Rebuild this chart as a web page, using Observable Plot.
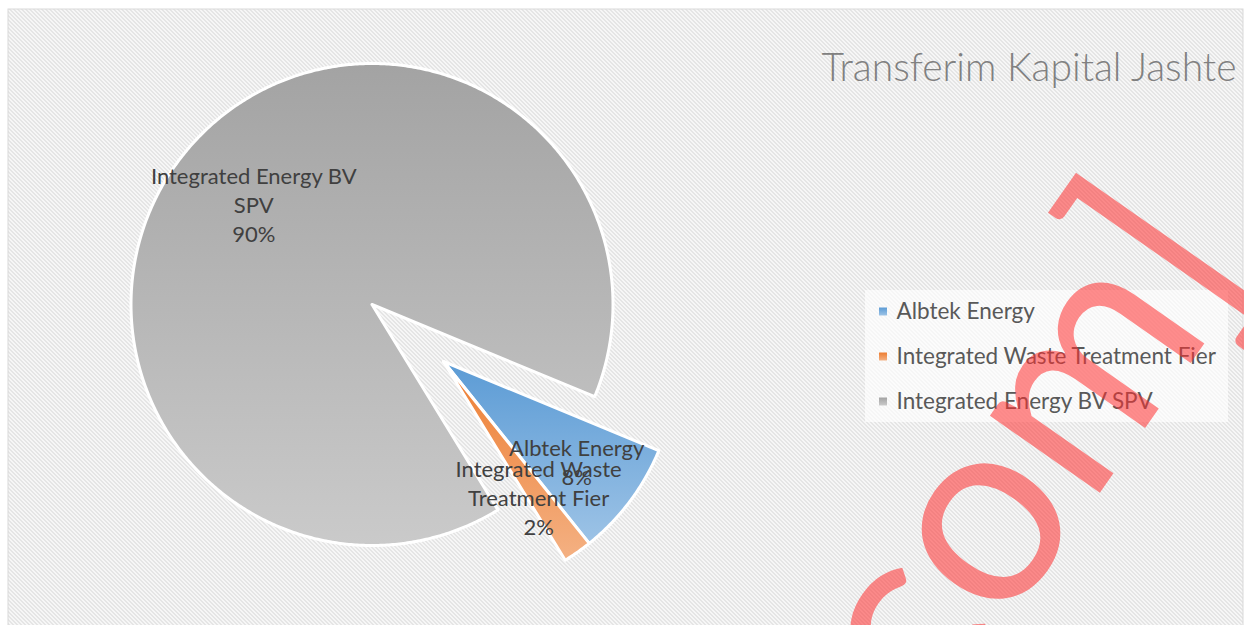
<!DOCTYPE html>
<html><head><meta charset="utf-8">
<script src="https://cdn.jsdelivr.net/npm/d3@7"></script>
<script src="https://cdn.jsdelivr.net/npm/@observablehq/plot@0.6"></script>
<style>
html,body{margin:0;padding:0;background:#fff;}
#chart{position:relative;width:1244px;height:625px;overflow:hidden;}
</style></head><body>
<svg width="0" height="0" style="position:absolute">
<defs>
  <pattern id="hatch" width="4" height="4" patternUnits="userSpaceOnUse">
    <rect width="4" height="4" fill="#ffffff"/>
    <g fill="#dcdcdc" shape-rendering="crispEdges">
      <rect x="0" y="0" width="2" height="1"/>
      <rect x="1" y="1" width="2" height="1"/>
      <rect x="2" y="2" width="2" height="1"/>
      <rect x="3" y="3" width="1" height="1"/><rect x="0" y="3" width="1" height="1"/>
    </g>
  </pattern>
  <linearGradient id="gBlue" x1="0" y1="0" x2="0" y2="1">
    <stop offset="0" stop-color="#5b9bd5"/><stop offset="1" stop-color="#9dc3e6"/>
  </linearGradient>
  <linearGradient id="gOrange" x1="0" y1="0" x2="0" y2="1">
    <stop offset="0" stop-color="#ed7d31"/><stop offset="1" stop-color="#f4b183"/>
  </linearGradient>
  <linearGradient id="gGray" x1="0" y1="0" x2="0" y2="1">
    <stop offset="0" stop-color="#a3a3a3"/><stop offset="1" stop-color="#cacaca"/>
  </linearGradient>
</defs>
</svg>
<div id="chart"></div>
<script>
// ---- data ----
const title = "Transferim Kapital Jashte";
const categories = ["Albtek Energy", "Integrated Waste Treatment Fier", "Integrated Energy BV SPV"];
const values = [8, 2, 90];
const sliceLabels = ["Albtek Energy", "Integrated Waste\nTreatment Fier", "Integrated Energy BV\nSPV"];
const watermark = "com]";

// ---- style / layout ----
const W = 1244, H = 625;
const cx = 371.5, cy = 304, R = 241;
const firstSliceAngle = 112.5; // degrees, clockwise from 12 o'clock
const fills = ["url(#gBlue)", "url(#gOrange)", "url(#gGray)"];
const explode = [
  {dx: 71.5 / R, dy: 57 / R, r: 0.967, lab: 0.715},
  {dx: 71.5 / R, dy: 57 / R, r: 0.967, lab: 0.71},
  {dx: 0, dy: 0, r: 1, lab: 0.645}
];
const FONT = "Lato, 'Open Sans', sans-serif";
const X = px => (px - cx) / R;
const Y = py => (py - cy) / R;

const rows = categories.map((c, i) => ({category: c, value: values[i], label: sliceLabels[i], i}));
const total = d3.sum(values);
const a0 = firstSliceAngle * Math.PI / 180;
const arcs = d3.pie().value(d => d.value).sort(null).startAngle(a0).endAngle(a0 + 2 * Math.PI)(rows);

function slicePoints(a) {
  const e = explode[a.data.i];
  const pts = [{x: e.dx, y: e.dy}];
  const n = Math.max(4, Math.ceil((a.endAngle - a.startAngle) / (Math.PI / 360)));
  for (let k = 0; k <= n; k++) {
    const t = a.startAngle + (a.endAngle - a.startAngle) * k / n;
    pts.push({x: e.dx + e.r * Math.sin(t), y: e.dy - e.r * Math.cos(t)});
  }
  pts.push({x: e.dx, y: e.dy});
  return pts;
}

const labelRows = arcs.map(a => {
  const e = explode[a.data.i];
  const m = (a.startAngle + a.endAngle) / 2;
  return {
    x: e.dx + e.r * e.lab * Math.sin(m),
    y: e.dy - e.r * e.lab * Math.cos(m),
    text: a.data.label + "\n" + d3.format(".0%")(a.data.value / total)
  };
});

const drawOrder = [2, 0, 1];
const sliceMarks = drawOrder.map(i => Plot.line(slicePoints(arcs[i]), {
  x: "x", y: "y", fill: fills[i], stroke: "#ffffff", strokeWidth: 3, strokeLinejoin: "round"
}));

const legendRows = categories.map((c, i) => ({c, i, x: X(882.5), tx: X(896), y: Y(311 + 45 * i)}));
const legendMarks = legendRows.flatMap(d => [
  Plot.dot([d], {x: "x", y: "y", symbol: "square", r: 4.5, fill: fills[d.i], stroke: "none"}),
  Plot.text([d], {x: "tx", y: "y", text: "c", textAnchor: "start", fontSize: 22.5, fill: "#595959"})
]);

const chart = Plot.plot({
  width: W, height: H, margin: 0,
  x: {domain: [X(0), X(W)], axis: null},
  y: {domain: [Y(H), Y(0)], axis: null},
  style: {fontFamily: FONT, background: "transparent"},
  marks: [
    Plot.frame({fill: "url(#hatch)", stroke: "#d9d9d9", strokeWidth: 1, insetLeft: 7.5, insetTop: 8.5, insetRight: 1.5, insetBottom: -10}),
    ...sliceMarks,
    Plot.text(labelRows, {x: "x", y: "y", text: "text", fontSize: 22, lineHeight: 1.32, fill: "#404040", lineAnchor: "middle"}),
    Plot.rect([{x1: X(865), x2: X(1228), y1: Y(290), y2: Y(422)}], {x1: "x1", x2: "x2", y1: "y1", y2: "y2", fill: "#ffffff", fillOpacity: 0.65}),
    ...legendMarks,
    Plot.text([{x: X(1236), y: Y(80), t: title}], {x: "x", y: "y", text: "t", textAnchor: "end", lineAnchor: "bottom", fontSize: 39, fontWeight: 300, fill: "#808080"}),
    Plot.text([{x: X(1024), y: Y(452), t: watermark}], {x: "x", y: "y", text: "t", rotate: -55, fontSize: 265, fill: "#ff3030", fillOpacity: 0.55})
  ]
});
document.getElementById("chart").appendChild(chart);
</script>
</body></html>
